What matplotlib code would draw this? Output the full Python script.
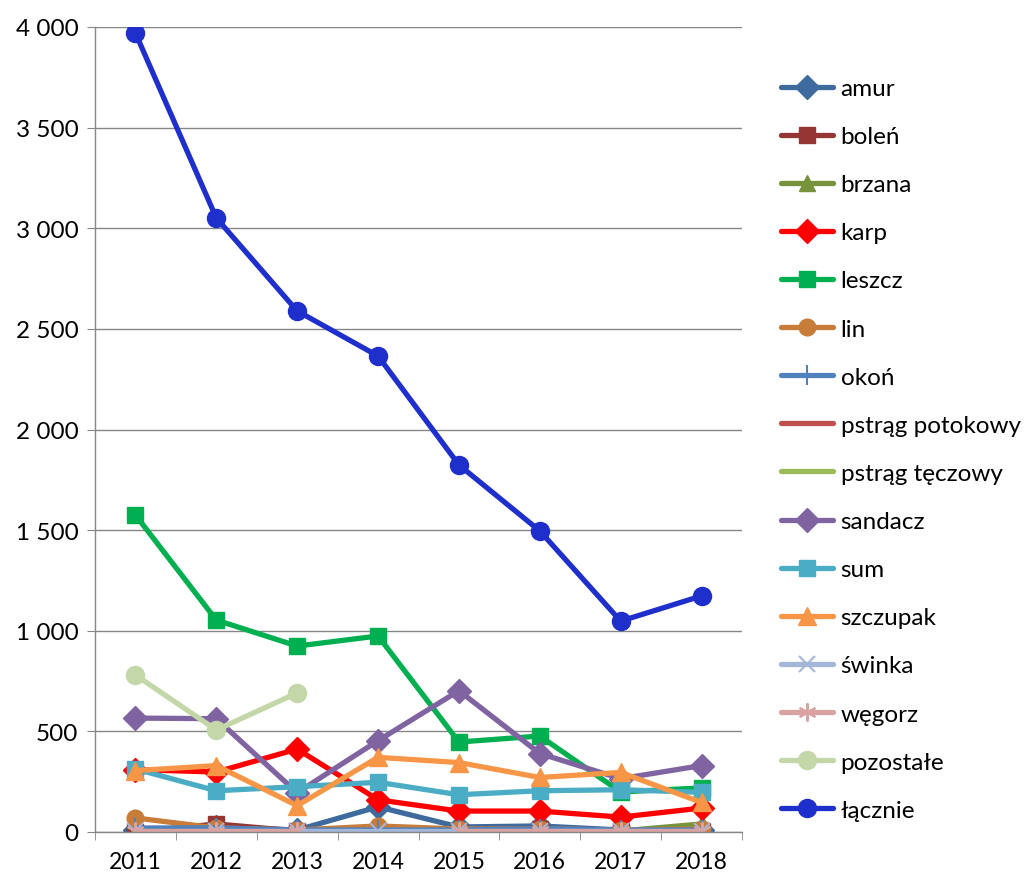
import matplotlib
matplotlib.use("Agg")
import matplotlib.pyplot as plt
import numpy as np
from matplotlib.ticker import FixedLocator, FuncFormatter

plt.rcParams['font.family'] = ['Lato', 'DejaVu Sans']

years = ['2011', '2012', '2013', '2014', '2015', '2016', '2017', '2018']
nan = np.nan

amur = [10, 25, 10, 125, 25, 30, 10, 10]
bolen = [0, 40, 5, 3, 5, 15, 5, 5]
brzana = [0, 5, 0, 0, 0, 0, 5, 40]
karp = [310, 298, 412, 160, 104, 104, 74, 119]
leszcz = [1575, 1053, 924, 974, 447, 477, 199, 219]
lin = [70, 20, 10, 30, 15, 15, 10, 15]
okon = [20, 20, 10, 10, 10, 15, 10, 10]
pstrag_potokowy = [0, 0, 0, 0, 0, 0, 0, 0]
pstrag_teczowy = [0, 0, 0, 0, 0, 0, 0, 0]
sandacz = [566, 563, 195, 454, 702, 390, 265, 330]
sum_ = [313, 205, 225, 247, 185, 205, 210, 197]
szczupak = [305, 330, 131, 371, 345, 271, 296, 147]
swinka = [5, 5, 5, 5, 5, 5, 5, 5]
wegorz = [5, 5, 5, nan, 5, 5, 5, 5]
pozostale = [780, 507, 691, nan, nan, nan, nan, nan]
lacznie = [3970, 3051, 2589, 2365, 1824, 1496, 1048, 1173]

asterisk = (6, 2, 0)

series = [
    ('amur', amur, '#3E6A9E', 'D', 12),
    ('boleń', bolen, '#943634', 's', 11),
    ('brzana', brzana, '#77933C', '^', 12),
    ('karp', karp, '#FF0000', 'D', 12),
    ('leszcz', leszcz, '#00B050', 's', 12),
    ('lin', lin, '#C77C3A', 'o', 12),
    ('okoń', okon, '#4F81BD', '|', 14),
    ('pstrąg potokowy', pstrag_potokowy, '#C0504D', 'None', 0),
    ('pstrąg tęczowy', pstrag_teczowy, '#9BBB59', 'None', 0),
    ('sandacz', sandacz, '#8064A2', 'D', 12),
    ('sum', sum_, '#4BACC6', 's', 12),
    ('szczupak', szczupak, '#F79646', '^', 13),
    ('świnka', swinka, '#A5B7D8', 'x', 12),
    ('węgorz', wegorz, '#D9A3A2', asterisk, 13),
    ('pozostałe', pozostale, '#C4D7A9', 'o', 13),
    ('łącznie', lacznie, '#1F2FCC', 'o', 13),
]

fig = plt.figure(figsize=(10.27, 8.79), dpi=100)
ax = fig.add_axes([95/1027, 1-833/879, (742-95)/1027, (833-28)/879])

x = np.arange(len(years))
for name, vals, col, mk, ms in series:
    ax.plot(x, vals, color=col, lw=3.8, marker=mk, markersize=ms,
            markerfacecolor=col, markeredgecolor=col,
            markeredgewidth=1.5 if mk in ('x', '|') or mk == asterisk else 1,
            label=name, solid_capstyle='round', solid_joinstyle='round')

ax.set_xlim(-0.5, len(years) - 0.5)
ax.set_ylim(0, 4000)
ax.set_xticks(x)
ax.set_xticklabels(years)
ax.xaxis.set_minor_locator(FixedLocator(np.arange(-0.5, len(years), 1.0)))
ax.tick_params(axis='x', which='major', length=0, labelsize=16.5, pad=14)
ax.tick_params(axis='x', which='minor', length=6, color='#868686', direction='out')
ax.set_yticks(np.arange(0, 4001, 500))
ax.yaxis.set_major_formatter(FuncFormatter(lambda v, p: f"{v:,.0f}".replace(",", " ")))
ax.tick_params(axis='y', length=6, color='#868686', labelsize=17.5, pad=6)
ax.grid(axis='y', color='#868686', lw=1)
ax.set_axisbelow(True)
for s in ['top', 'right']:
    ax.spines[s].set_visible(False)
for s in ['left', 'bottom']:
    ax.spines[s].set_color('#868686')
    ax.spines[s].set_linewidth(1)

fig.legend(loc='upper left', bbox_to_anchor=(781/1027, 1-79/879), frameon=False,
           fontsize=17.5, handlelength=2.15, handletextpad=0.3, labelspacing=1.115,
           borderpad=0, borderaxespad=0)

fig.savefig('out.png', dpi=100)
